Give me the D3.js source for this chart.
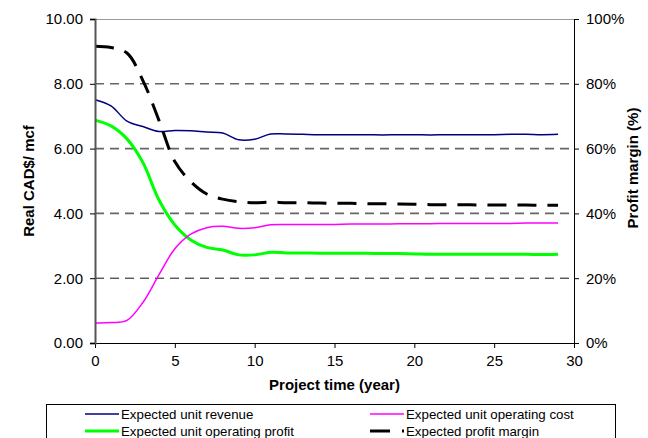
<!DOCTYPE html>
<html>
<head>
<meta charset="utf-8">
<script src="https://cdn.jsdelivr.net/npm/d3@7/dist/d3.min.js"></script>
<style>
  html, body { margin: 0; padding: 0; background: #fff; }
  svg { display: block; font-family: "Liberation Sans", Arial, sans-serif; }
</style>
</head>
<body>
<svg id="chart" width="648" height="438"></svg>
<script>
// Project years
const years = [0,1,2,3,4,5,6,7,8,9,10,11,12,13,14,15,16,17,18,19,20,21,22,23,24,25,26,27,28,29];

// Real CAD$/mcf series (left axis)
const revenue = [7.51,7.32,6.85,6.68,6.53,6.56,6.55,6.51,6.48,6.27,6.29,6.45,6.45,6.44,6.43,6.43,6.43,6.43,6.42,6.43,6.43,6.42,6.43,6.43,6.43,6.43,6.44,6.44,6.43,6.44];
const opCost  = [0.62,0.63,0.70,1.25,2.10,2.91,3.36,3.56,3.60,3.54,3.56,3.65,3.66,3.66,3.66,3.66,3.67,3.67,3.67,3.68,3.68,3.68,3.69,3.69,3.69,3.69,3.69,3.70,3.70,3.70];
const opProfit = [6.88,6.70,6.30,5.57,4.42,3.64,3.18,2.95,2.87,2.72,2.72,2.80,2.78,2.78,2.77,2.77,2.77,2.77,2.76,2.76,2.75,2.74,2.74,2.74,2.74,2.74,2.74,2.74,2.73,2.74];

// Profit margin, percent (right axis)
const margin = [91.6,91.2,89.5,81.0,68.8,56.0,49.8,46.0,44.4,43.6,43.3,43.5,43.3,43.3,43.2,43.1,43.1,43.0,43.0,42.9,42.8,42.7,42.7,42.7,42.6,42.6,42.6,42.6,42.5,42.5];

// Axis ticks
const xTicks = [0,5,10,15,20,25,30];
const yTicks = [0,2,4,6,8,10];
const pctTicks = [0,20,40,60,80,100];

const legendItems = [
  {label: "Expected unit revenue", color: "#000080", width: 1.5, dash: null},
  {label: "Expected unit operating cost", color: "#FF00FF", width: 1.5, dash: null},
  {label: "Expected unit operating profit", color: "#00FF00", width: 3, dash: null},
  {label: "Expected profit margin", color: "#000000", width: 3, dash: "20,12"}
];

const svg = d3.select("#chart");
const plot = {left: 95, right: 574, top: 19, bottom: 343};

const x = d3.scaleLinear().domain([0, 30]).range([plot.left, plot.right]);
const y = d3.scaleLinear().domain([0, 10]).range([plot.bottom, plot.top]);
const yPct = d3.scaleLinear().domain([0, 100]).range([plot.bottom, plot.top]);

// Horizontal gridlines
svg.append("g")
  .selectAll("line")
  .data(yTicks.filter(t => t > 0 && t < 10))
  .join("line")
  .attr("x1", plot.left).attr("x2", plot.right)
  .attr("y1", d => y(d)).attr("y2", d => y(d))
  .attr("stroke", d => d === 2 ? "#111" : "#666")
  .attr("stroke-width", d => d === 2 ? 1 : 1.6)
  .attr("stroke-dasharray", "9,6");

// Top border of the plot area
svg.append("line")
  .attr("x1", plot.left).attr("x2", plot.right)
  .attr("y1", plot.top + 0.5).attr("y2", plot.top + 0.5)
  .attr("stroke", "#999").attr("stroke-width", 1);

// Series lines
const line = (arr, scale) => d3.line()
  .x((d, i) => x(years[i]))
  .y(d => scale(d))
  .curve(d3.curveCatmullRom.alpha(0.5))(arr);

const g = svg.append("g");
g.append("path").attr("d", line(opProfit, y))
  .attr("fill", "none").attr("stroke", "#00FF00").attr("stroke-width", 3);
g.append("path").attr("d", line(opCost, y))
  .attr("fill", "none").attr("stroke", "#FF00FF").attr("stroke-width", 1.5);
g.append("path").attr("d", line(revenue, y))
  .attr("fill", "none").attr("stroke", "#000080").attr("stroke-width", 1.5);
g.append("path").attr("d", line(margin, yPct))
  .attr("fill", "none").attr("stroke", "#000").attr("stroke-width", 3)
  .attr("stroke-dasharray", "19,11");

// Axes
const fmt2 = d3.format(".2f");
const leftAxis = svg.append("g")
  .attr("transform", `translate(${plot.left},0)`)
  .call(d3.axisLeft(y).tickValues(yTicks).tickFormat(fmt2).tickSize(5).tickPadding(7));
leftAxis.select(".domain").attr("stroke", "#555").attr("stroke-width", 2);

const rightAxis = svg.append("g")
  .attr("transform", `translate(${plot.right},0)`)
  .call(d3.axisRight(yPct).tickValues(pctTicks).tickFormat(d => d + "%").tickSize(5).tickPadding(7));

const bottomAxis = svg.append("g")
  .attr("transform", `translate(0,${plot.bottom})`)
  .call(d3.axisBottom(x).tickValues(xTicks).tickSize(5).tickPadding(7));

[leftAxis, rightAxis, bottomAxis].forEach(a => {
  a.selectAll("text").attr("font-size", 15).attr("fill", "#000")
    .attr("font-family", "'Liberation Sans', Arial, sans-serif");
  a.selectAll(".tick line").attr("stroke", "#000");
});
rightAxis.select(".domain").attr("stroke", "#000");
bottomAxis.select(".domain").attr("stroke", "#000");
leftAxis.raise();

// Axis titles
svg.append("text")
  .attr("transform", `translate(34,181) rotate(-90)`)
  .attr("text-anchor", "middle")
  .attr("font-size", 15).attr("font-weight", "bold")
  .text("Real CAD$/ mcf");

svg.append("text")
  .attr("transform", `translate(638,168) rotate(-90)`)
  .attr("text-anchor", "middle")
  .attr("font-size", 15).attr("font-weight", "bold")
  .text("Profit margin (%)");

svg.append("text")
  .attr("x", (plot.left + plot.right) / 2)
  .attr("y", 390)
  .attr("text-anchor", "middle")
  .attr("font-size", 15).attr("font-weight", "bold")
  .text("Project time (year)");

// Legend
const lg = svg.append("g");
lg.append("rect")
  .attr("x", 46.5).attr("y", 404.5)
  .attr("width", 569).attr("height", 50)
  .attr("fill", "#fff").attr("stroke", "#000").attr("stroke-width", 1);

const colX = [85, 370];
const rowY = [414, 431];
legendItems.forEach((d, i) => {
  const cx = colX[i % 2], cy = rowY[Math.floor(i / 2)];
  lg.append("line")
    .attr("x1", cx).attr("x2", cx + 34)
    .attr("y1", cy).attr("y2", cy)
    .attr("stroke", d.color).attr("stroke-width", d.width)
    .attr("stroke-dasharray", d.dash);
  lg.append("text")
    .attr("x", cx + 36).attr("y", cy + 4.7)
    .attr("font-size", 13.3)
    .text(d.label);
});
</script>
</body>
</html>
